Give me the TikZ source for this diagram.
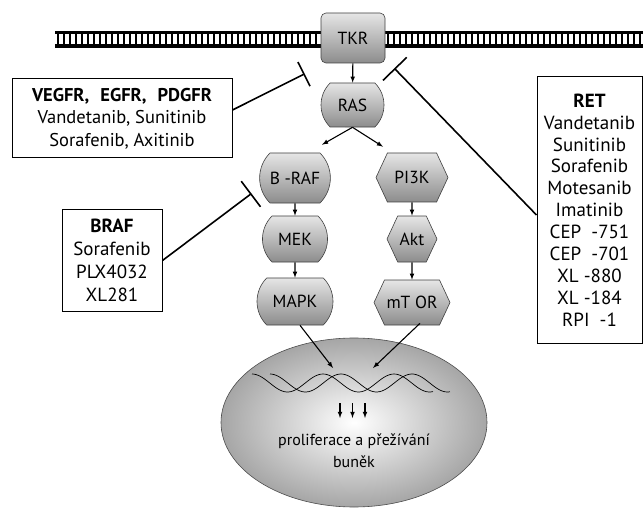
\documentclass[tikz,border=0pt]{standalone}
\usepackage{fontspec}
\setmainfont{PT Sans}
\usetikzlibrary{shapes.misc,shapes.symbols,shapes.geometric,arrows.meta}

\begin{document}
\begin{tikzpicture}[x=1pt, y=-1pt, >=latex,
    protein/.style={draw=black!75, line width=0.6pt, top color=black!10, bottom color=black!45,
      inner sep=0pt, font=\fontsize{17.5}{20}\selectfont},
    barrel/.style={protein, rounded rectangle, rounded rectangle arc length=90},
    hexa/.style={protein, signal, signal from=nowhere, signal to=east and west, signal pointer angle=130},
    drugbox/.style={draw, line width=1pt, fill=white, align=center, inner sep=0pt},
    act/.style={->, line width=1.1pt},
    inhib/.style={-{Bar[width=#1]}, line width=1.6pt}]

    \useasboundingbox (0,0) rectangle (643,508);

    % Membrane
    \draw[line width=3.5pt] (55,32.5) -- (643,32.5) (55,46) -- (643,46);
    \foreach \x in {58,64,...,640}
        \draw[line width=2.2pt] (\x,32.5) -- (\x,46);

    % Nodes
    \node[protein, rectangle, rounded corners=5pt, minimum width=64, minimum height=50] at (353,38) (TKR) {TKR};
    \node[barrel, minimum width=63, minimum height=44] at (352.5,105) (RAS) {RAS};
    \node[barrel, minimum width=70, minimum height=50] at (295,178) (BRAF) {B -RAF};
    \node[barrel, minimum width=62, minimum height=46] at (295,239) (MEK) {MEK};
    \node[barrel, minimum width=76, minimum height=47] at (295,301.5) (MAPK) {MAPK};
    \node[hexa, minimum width=72, minimum height=49] at (412,177.5) (PI3K) {PI3K};
    \node[hexa, minimum width=50, minimum height=46] at (412,239) (AKT) {Akt};
    \node[hexa, minimum width=76, minimum height=45] at (412,302.5) (MTOR) {mT OR};
    \node[ellipse, draw=black!70, line width=0.6pt, inner color=white, outer color=black!35,
      minimum width=266, minimum height=169] at (354,422.5) (Cell) {};
    \node[font=\fontsize{16}{22}\selectfont, align=center] at (354,451) (Label) {proliferace a přežívání\\buněk};

    % Drug boxes
    \node[drugbox, minimum width=220, minimum height=79, font=\fontsize{18.5}{22.5}\selectfont] at (122,118.5) (BoxV)
        {\textbf{VEGFR,\hspace{0.6em}EGFR,\hspace{0.6em}PDGFR}\\Vandetanib,\ Sunitinib\\Sorafenib,\ Axitinib};
    \node[drugbox, minimum width=100, minimum height=101, font=\fontsize{19}{23}\selectfont] at (112,260.5) (BoxB)
        {\textbf{BRAF}\\Sorafenib\\PLX4032\\XL281};
    \node[drugbox, minimum width=105, minimum height=266, font=\fontsize{19}{21.9}\selectfont] at (589.5,210) (BoxR)
        {\textbf{RET}\\Vandetanib\\Sunitinib\\Sorafenib\\Motesanib\\Imatinib\\CEP\ \ -751\\CEP\ \ -701\\XL -880\\XL -184\\RPI\ \ -1};

    % DNA
    \draw[line width=0.7pt] plot[domain=252:433, samples=80, smooth] (\x, {383 - 9*cos((\x-252)*5.0704)});
    \draw[line width=0.7pt] plot[domain=270:450, samples=80, smooth] (\x, {383 - 9*cos((\x-270)*5.0704)});

    % Arrows
    \draw[act] (TKR) -- (RAS);
    \draw[act] (RAS.south) -- ([xshift=27pt, yshift=8pt]BRAF.north);
    \draw[act] (RAS.south) -- ([xshift=-29pt, yshift=6pt]PI3K.north);
    \draw[act] (BRAF) -- (MEK);
    \draw[act] (MEK) -- (MAPK);
    \draw[act] (PI3K) -- (AKT);
    \draw[act] (AKT) -- (MTOR);
    \coordinate (InL) at (333,368);
    \coordinate (InR) at (373,368);
    \draw[act] ([xshift=5pt]MAPK.south) -- (InL);
    \draw[act] ([xshift=8pt, yshift=2pt]MTOR.south) -- (InR);
    \foreach \x [count=\i] in {340,352.5,365} {
        \coordinate (Top\i) at (\x,403);
        \coordinate (Bot\i) at (\x,418);
        \draw[act] (Top\i) -- (Bot\i);
    }

    % Inhibitors
    \coordinate (BarV) at (304.7,73.8);
    \coordinate (BarR) at (394.3,68.3);
    \coordinate (BarB) at (251.5,193.5);
    \draw[inhib=27pt] ([yshift=8.5pt]BoxV.east) -- (BarV);
    \draw[inhib=33pt] ([yshift=-5pt]BoxR.west) -- (BarR);
    \draw[inhib=32pt] (BoxB.east) -- (BarB);

\end{tikzpicture}
\end{document}
